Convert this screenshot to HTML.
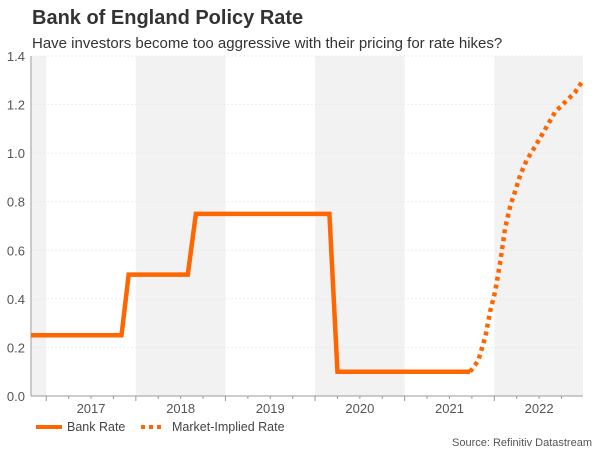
<!DOCTYPE html>
<html><head><meta charset="utf-8"><style>
body{margin:0;background:#fff;width:600px;height:450px;overflow:hidden;font-family:"Liberation Sans",sans-serif}
</style></head><body>
<svg id="chart" width="600" height="450" xmlns="http://www.w3.org/2000/svg" font-family="Liberation Sans, sans-serif">
<text x="32" y="24" font-size="20" font-weight="bold" fill="#333">Bank of England Policy Rate</text>
<text x="32" y="48" font-size="15" fill="#333">Have investors become too aggressive with their pricing for rate hikes?</text>
<g id="bands"></g><g id="grid"></g><g id="axes"></g><g id="series"></g>
<g>
<line x1="36" y1="427" x2="62" y2="427" stroke="#ff6600" stroke-width="4"/>
<text x="67" y="431" font-size="12.5" fill="#444">Bank Rate</text>
<line x1="141" y1="427" x2="163" y2="427" stroke="#ff6600" stroke-width="4" stroke-dasharray="4,4"/>
<text x="172" y="431" font-size="12.5" fill="#444">Market-Implied Rate</text>
</g>
<text x="592" y="446" font-size="11" fill="#555" text-anchor="end">Source: Refinitiv Datastream</text>
</svg>
<script>
const yTicks=[0,0.2,0.4,0.6,0.8,1.0,1.2,1.4];
const yearLabels=[2017,2018,2019,2020,2021,2022];
const bankT=[2016.83,2017.84,2017.92,2018.58,2018.67,2020.16,2020.25,2021.73];
const bankV=[0.25,0.25,0.5,0.5,0.75,0.75,0.1,0.1];
const mktT=[2021.73,2021.82,2021.90,2021.955,2022.01,2022.07,2022.12,2022.18,2022.23,2022.29,2022.36,2022.46,2022.57,2022.68,2022.79,2022.90,2022.99];
const mktV=[0.1,0.145,0.244,0.35,0.43,0.56,0.69,0.785,0.84,0.91,0.97,1.03,1.10,1.17,1.21,1.25,1.30];
const X0=31,X1=583,Y0=396,Y1=56,T0=2016.83,T1=2022.99;
const xs=t=>X0+(t-T0)/(T1-T0)*(X1-X0);
const ys=v=>Y0-v/1.4*(Y0-Y1);
const NS="http://www.w3.org/2000/svg";
function mk(tag,attrs,parent){const e=document.createElementNS(NS,tag);for(const k in attrs)e.setAttribute(k,attrs[k]);document.getElementById(parent).appendChild(e);return e;}
const bandStarts=[T0,2018,2020,2022];
bandStarts.forEach((s,i)=>{const e=Math.min(i===0?2017:s+1,T1);
const r=mk('rect',{x:xs(s),y:Y1,width:xs(e)-xs(s),height:Y0-Y1,fill:'#f2f2f2'},'bands');

});
yTicks.forEach(v=>{
const l=mk('line',{x1:X0,x2:X1,y1:ys(v),y2:ys(v),stroke:'#e6e6e6','stroke-width':0.7,'stroke-dasharray':'2,2'},'grid');


const t=mk('text',{x:25,y:ys(v)+5,'font-size':13,fill:'#555','text-anchor':'end'},'axes');t.textContent=v.toFixed(1);

});
const ax=mk('line',{x1:X0,x2:X0,y1:Y1,y2:Y0,stroke:'#bbb','stroke-width':1.5},'axes');

const bx=mk('line',{x1:X0,x2:X1,y1:Y0,y2:Y0,stroke:'#999','stroke-width':1},'axes');

for(let q=2016.75;q<=T1;q+=0.25){if(q<T0)continue;const major=Math.abs(q-Math.round(q))<0.01;
const tk=mk('line',{x1:xs(q),x2:xs(q),y1:Y0,y2:Y0+(major?5:3),stroke:'#999'},'axes');
}
yearLabels.forEach(y=>{const t=mk('text',{x:xs(y+0.5),y:413,'font-size':13,fill:'#555','text-anchor':'middle'},'axes');t.textContent=y;

});
const b=mk('polyline',{points:bankT.map((t,i)=>xs(t)+','+ys(bankV[i])).join(' '),fill:'none',stroke:'#ff6600','stroke-width':4.5,'stroke-linejoin':'miter'},'series');


const m=mk('polyline',{points:mktT.map((t,i)=>xs(t)+','+ys(mktV[i])).join(' '),fill:'none',stroke:'#ff6600','stroke-width':4.5,'stroke-dasharray':'4,4'},'series');


</script>
</body></html>
